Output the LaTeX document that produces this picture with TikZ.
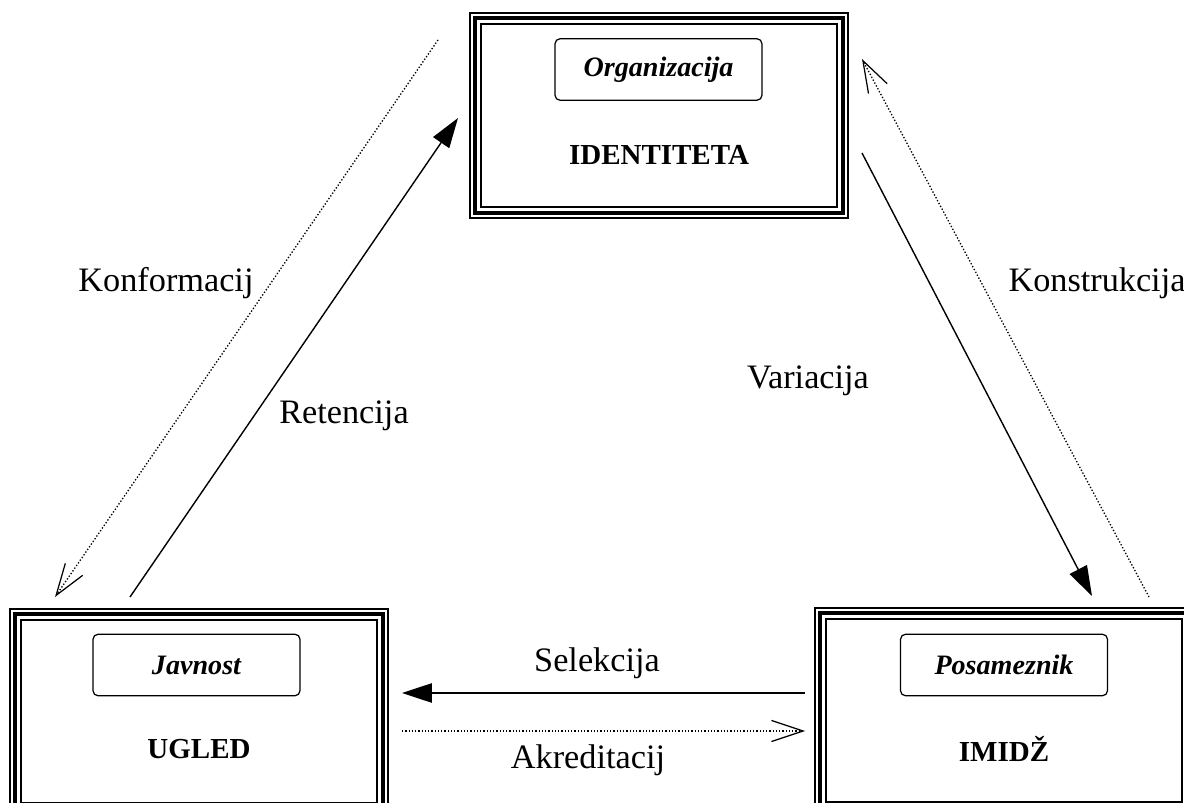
\documentclass[tikz,border=0pt]{standalone}
\usepackage{fontspec}
\setmainfont{Liberation Serif}
\usetikzlibrary{arrows.meta}
\tikzset{
  frame/.style={draw, line width=0.7pt, minimum width=7.56cm, minimum height=4.1cm, inner sep=0pt},
  tag/.style={draw, rounded corners=0.1cm, line width=0.7pt, minimum width=4.14cm, minimum height=1.23cm,
    font=\fontsize{16}{19}\selectfont\bfseries\itshape},
  title/.style={font=\fontsize{16.5}{20}\selectfont\bfseries},
  lbl/.style={font=\fontsize{19.5}{23}\selectfont},
  full/.style={line width=0.8pt, -{Triangle[length=17pt,width=11pt]}},
  weak/.style={line width=0.75pt, dash pattern=on 0.75pt off 1.1pt,
    -{Straight Barb[length=18pt,width=12pt,line width=0.7pt]}}
}
\begin{document}
\begin{tikzpicture}[x=0.02cm,y=-0.02cm]
\clip (0,0) rectangle (1184,803);
% the three boxes
\node[frame] (org) at (659,115.5) {};
\node[frame] (pub) at (199,711.5) {};
\node[frame] (pos) at (1004,710.5) {};
\foreach \b in {org,pub,pos}
{
	\draw[line width=2.55pt] ([shift={(5.5,5.5)}]\b.north west) rectangle ([shift={(-5.5,-5.5)}]\b.south east);
	\draw[line width=0.85pt] ([shift={(11.5,11.5)}]\b.north west) rectangle ([shift={(-11.5,-11.5)}]\b.south east);
}
\node[tag] (orgtag) at (658.5,69.5) {Organizacija};
\node[tag] (pubtag) at (196.5,665) {Javnost};
\node[tag] (postag) at (1004,665) {Posameznik};
\node[title] (orgname) at (659,155) {IDENTITETA};
\node[title] (pubname) at (199,749) {UGLED};
\node[title] (posname) at (1004,749) {IMIDŽ};
% arrow ends
\coordinate (retA) at (130,597);
\coordinate (retB) at (458,118);
\coordinate (konfA) at (438,40);
\coordinate (konfB) at (55,597);
\coordinate (varA) at (862,153);
\coordinate (varB) at (1092,596);
\coordinate (konsA) at (1149,597);
\coordinate (konsB) at (862,59);
\coordinate (selA) at (805,693);
\coordinate (selB) at (402,693);
\coordinate (akrA) at (402,731);
\coordinate (akrB) at (805,731);
\draw[full] (retA) -- (retB);
\draw[weak] (konfA) -- (konfB);
\draw[full] (varA) -- (varB);
\draw[weak] (konsA) -- (konsB);
\draw[full] (selA) -- (selB);
\draw[weak] (akrA) -- (akrB);
% labels
\node[lbl] (konf) at (166,283) {Konformacij};
\node[lbl] (ret) at (344,416) {Retencija};
\node[lbl] (var) at (808,381) {Variacija};
\node[lbl] (kons) at (1097,283) {Konstrukcija};
\node[lbl] (sel) at (597,663) {Selekcija};
\node[lbl] (akr) at (588,760) {Akreditacij};
\end{tikzpicture}
\end{document}
